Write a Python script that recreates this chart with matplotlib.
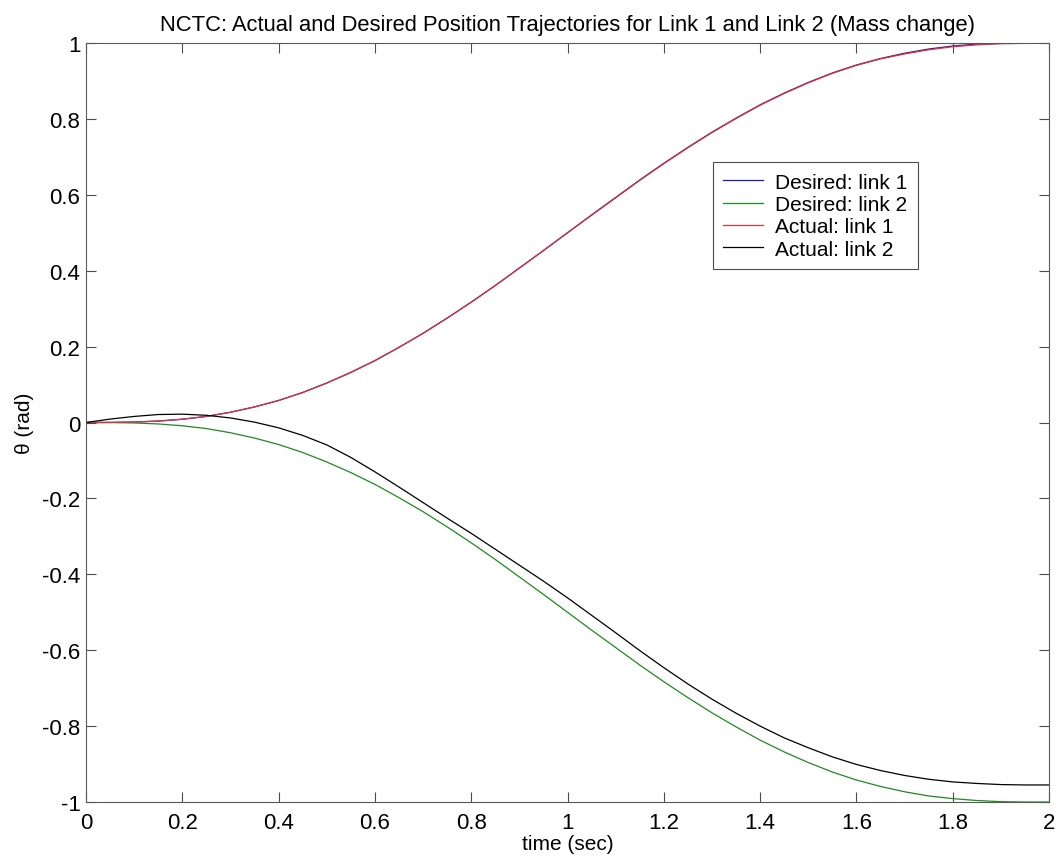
import matplotlib
matplotlib.use("Agg")
import matplotlib.pyplot as plt
import numpy as np

plt.rcParams['font.family'] = ['Liberation Sans', 'DejaVu Sans']

# time axis (sec), 0.05 s steps
t = np.arange(41) * 0.05

# desired trajectories (rad)
desired_1 = [0, 0.0002, 0.0012, 0.0038, 0.0086, 0.016, 0.027, 0.041, 0.058, 0.079,
             0.104, 0.132, 0.163, 0.198, 0.235, 0.275, 0.317, 0.361, 0.407, 0.453,
             0.5, 0.547, 0.593, 0.639, 0.683, 0.725, 0.765, 0.802, 0.837, 0.868,
             0.896, 0.921, 0.942, 0.959, 0.973, 0.984, 0.992, 0.997, 0.999, 1.0, 1.0]
desired_2 = [0, -0.0002, -0.0012, -0.0038, -0.0086, -0.016, -0.027, -0.041, -0.058, -0.079,
             -0.104, -0.132, -0.163, -0.198, -0.235, -0.275, -0.317, -0.361, -0.407, -0.453,
             -0.5, -0.547, -0.593, -0.639, -0.683, -0.725, -0.765, -0.802, -0.837, -0.868,
             -0.896, -0.921, -0.942, -0.959, -0.973, -0.984, -0.991, -0.996, -0.999, -1.0, -1.0]

# actual trajectories (rad)
actual_1 = [0, 0.0002, 0.0012, 0.0038, 0.0086, 0.016, 0.027, 0.041, 0.058, 0.079,
            0.104, 0.132, 0.163, 0.198, 0.235, 0.275, 0.317, 0.361, 0.407, 0.453,
            0.5, 0.546, 0.592, 0.638, 0.682, 0.724, 0.764, 0.801, 0.836, 0.867,
            0.895, 0.920, 0.941, 0.958, 0.971, 0.982, 0.990, 0.995, 0.998, 0.999, 1.0]
actual_2 = [0, 0.009, 0.016, 0.021, 0.022, 0.019, 0.012, 0.001, -0.014, -0.034,
            -0.059, -0.092, -0.13, -0.17, -0.211, -0.252, -0.292, -0.334, -0.376, -0.418,
            -0.462, -0.508, -0.554, -0.601, -0.646, -0.689, -0.729, -0.766, -0.80, -0.831,
            -0.857, -0.881, -0.901, -0.917, -0.930, -0.940, -0.947, -0.951, -0.954, -0.955, -0.955]

fig = plt.figure(figsize=(10.64, 8.62), dpi=100)
ax = fig.add_axes([0.0808, 0.0684, 0.9052, 0.8806])

lw = 0.9
ax.plot(t, desired_1, color='#1c1ca8', lw=lw, label='Desired: link 1')
ax.plot(t, desired_2, color='#1f8a1f', lw=lw, label='Desired: link 2')
ax.plot(t, actual_1, color='#e0303c', lw=lw, label='Actual: link 1')
ax.plot(t, actual_2, color='#000000', lw=lw, label='Actual: link 2')

ax.set_xlim(0, 2)
ax.set_ylim(-1, 1)
ax.set_xticks(np.arange(0, 2.01, 0.2))
ax.set_yticks(np.arange(-1, 1.01, 0.2))
ax.set_xticklabels(['0', '0.2', '0.4', '0.6', '0.8', '1', '1.2', '1.4', '1.6', '1.8', '2'])
ax.set_yticklabels(['-1', '-0.8', '-0.6', '-0.4', '-0.2', '0', '0.2', '0.4', '0.6', '0.8', '1'])

ax.tick_params(direction='in', length=7, width=0.8, color='0.3', labelsize=16,
               top=True, right=True, pad=4)
ax.tick_params(axis='x', pad=7)
for s in ax.spines.values():
    s.set_color('0.35')
    s.set_linewidth(0.8)

ax.set_xlabel('time (sec)', fontsize=15, labelpad=1)
ax.set_ylabel('θ (rad)', fontsize=15, labelpad=6)
ax.set_title('NCTC: Actual and Desired Position Trajectories for Link 1 and Link 2 (Mass change)',
             fontsize=15.8, pad=9)

leg = ax.legend(loc='upper left', bbox_to_anchor=(0.651, 0.843), fontsize=15,
                fancybox=False, framealpha=1, edgecolor='0.3', borderaxespad=0,
                handlelength=1.9, labelspacing=0.16, borderpad=0.5, handletextpad=0.6)
leg.get_frame().set_linewidth(0.8)

fig.savefig('out.png', dpi=100)
